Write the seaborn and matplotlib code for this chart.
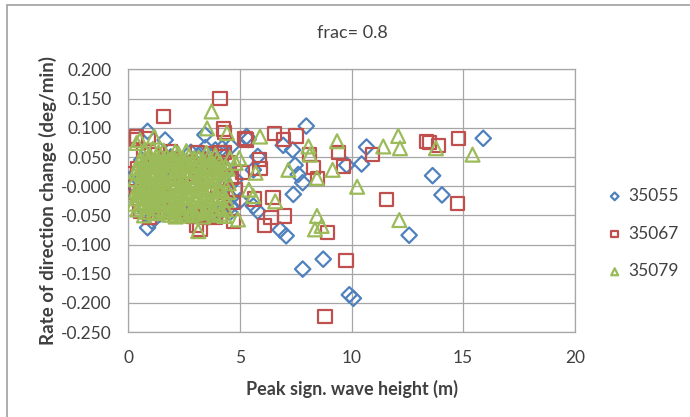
import numpy as np
import matplotlib
matplotlib.use("Agg")
import matplotlib.pyplot as plt
import pandas as pd
import seaborn as sns
from matplotlib.patches import Rectangle

sns.set_style("white")
plt.rcParams['font.family'] = ['Lato', 'DejaVu Sans']

# 35055 (blue diamonds): outliers first, then the points hidden in the cluster
x_35055 = [7.97, 10.67, 10.45, 9.78, 13.63, 14.05, 15.9, 12.58, 8.73, 7.81,
           9.9, 10.08, 7.07, 6.8, 7.39, 7.81, 7.61, 7.47, 7.36, 6.94,
           5.37, 5.8, 5.0, 5.6, 3.43, 0.86, 1.65, 0.86, 1.06, 0.22,
           0.37, 0.17, 5.8, 5.6, 5.3, 4.6, 4.6,
           0.5, 0.9, 1.3, 1.7, 2.1, 2.5, 2.9, 3.3, 3.7, 4.1,
           4.4, 4.6, 3.9, 3.2, 2.7, 1.9, 1.4, 0.6, 0.7, 3.6,
           4.3, 4.8, 4.2, 3.0, 2.3, 1.1, 2.8, 3.45, 4.55]
y_35055 = [0.103, 0.067, 0.038, 0.036, 0.018, -0.015, 0.082, -0.084, -0.125, -0.142,
           -0.186, -0.192, -0.085, -0.075, -0.014, 0.006, 0.020, 0.036, 0.062, 0.070,
           0.080, -0.043, -0.025, -0.034, 0.088, 0.094, 0.079, -0.071, -0.060, 0.003,
           0.023, -0.011, 0.051, 0.028, 0.085, -0.034, 0.068,
           0.010, -0.020, 0.030, -0.035, 0.020, -0.045, 0.045, -0.040, 0.050, -0.045,
           0.030, -0.020, 0.062, 0.055, -0.050, 0.050, -0.048, 0.045, -0.040, -0.052,
           0.000, 0.012, 0.065, 0.000, -0.010, 0.000, 0.058, 0.066, -0.045]

# 35067 (red squares)
x_35067 = [8.81, 9.75, 11.57, 10.94, 9.65, 9.4, 8.91, 8.1, 8.29, 8.48,
           7.51, 6.94, 6.54, 7.0, 6.39, 6.09, 6.48, 5.67, 5.87, 5.9,
           5.23, 13.36, 13.5, 13.88, 14.78, 14.75, 4.11, 1.57, 4.25, 4.3,
           0.38, 0.9, 0.22, 0.57, 0.96, 3.06, 3.21, 3.43, 3.92, 4.71,
           5.1, 4.81, 4.11, 5.3, 0.37, 1.06,
           0.4, 0.7, 1.0, 1.3, 1.6, 1.9, 2.2, 2.5, 2.8, 3.1,
           3.4, 3.7, 4.0, 4.3, 4.5, 4.6, 4.4, 4.2, 3.9, 3.6,
           3.3, 2.9, 2.5, 2.1, 1.7, 1.3, 0.5, 0.35, 2.0, 3.0,
           3.5, 4.0, 2.6, 1.5, 3.8, 4.15, 3.25, 2.35, 1.75, 4.7]
y_35067 = [-0.223, -0.127, -0.023, 0.054, 0.034, 0.058, -0.080, 0.054, 0.032, 0.013,
           0.086, 0.080, 0.090, -0.051, -0.054, -0.068, -0.020, -0.022, 0.046, 0.030,
           0.082, 0.077, 0.075, 0.070, 0.081, -0.030, 0.150, 0.119, 0.098, 0.092,
           0.080, 0.082, 0.022, -0.043, -0.054, -0.068, -0.074, -0.054, -0.054, -0.060,
           0.023, -0.006, 0.057, 0.079, 0.085, 0.054,
           0.030, 0.060, 0.020, 0.010, 0.035, 0.060, 0.025, 0.040, 0.015, 0.058,
           0.030, 0.055, 0.035, 0.058, 0.040, 0.015, -0.010, -0.040, -0.050, -0.045,
           -0.048, -0.052, -0.045, -0.050, -0.044, -0.047, -0.030, -0.010, 0.000, 0.020,
           0.030, 0.000, 0.025, -0.020, 0.038, 0.050, 0.045, 0.042, 0.048, -0.028]

# 35079 (green triangles)
x_35079 = [12.14, 12.09, 12.17, 11.42, 10.25, 9.35, 9.15, 8.45, 8.36, 8.66,
           8.45, 8.07, 8.13, 7.17, 6.58, 5.9, 4.91, 4.97, 5.4, 13.78,
           15.42, 3.73, 4.42, 3.53, 0.52, 3.13, 5.7, 4.81, 5.6, 1.15,
           0.37,
           0.31, 0.35, 0.42, 0.45, 0.5, 0.55, 0.58, 0.62, 0.38, 0.47,
           0.7, 0.74, 0.78, 0.82, 0.86, 0.9, 0.93, 0.97, 1.0, 0.72, 0.88,
           1.04, 1.08, 1.12, 1.16, 1.2, 1.24, 1.28, 1.32, 1.36, 1.4, 1.44, 1.48, 1.1, 1.3,
           1.52, 1.56, 1.6, 1.64, 1.68, 1.72, 1.76, 1.8, 1.84, 1.88, 1.92, 1.96, 1.58, 1.78,
           2.0, 2.04, 2.08, 2.12, 2.16, 2.2, 2.24, 2.28, 2.32, 2.36, 2.4, 2.44, 2.48, 2.1,
           2.52, 2.56, 2.6, 2.64, 2.68, 2.72, 2.76, 2.8, 2.84, 2.88, 2.92, 2.96, 2.6,
           3.0, 3.05, 3.1, 3.15, 3.2, 3.25, 3.3, 3.35, 3.4, 3.45, 3.5,
           3.55, 3.6, 3.65, 3.7, 3.75, 3.8, 3.85, 3.9, 3.95,
           4.0, 4.05, 4.1, 4.15, 4.2, 4.3, 4.35, 4.4, 4.5, 4.55,
           0.6, 0.8, 1.0, 1.2, 1.4, 1.6, 1.8, 2.0, 2.2, 2.4, 2.6, 2.8, 3.0, 3.2]
y_35079 = [-0.058, 0.086, 0.065, 0.068, -0.001, 0.077, 0.028, -0.051, -0.074, -0.068,
           0.014, 0.068, 0.054, 0.028, -0.026, 0.085, -0.057, 0.048, -0.006, 0.065,
           0.054, 0.128, 0.091, 0.099, 0.079, -0.077, 0.023, 0.040, -0.017, 0.085,
           0.074,
           0.012, -0.008, 0.031, -0.021, 0.004, 0.046, -0.035, 0.019, -0.015, 0.022,
           -0.002, 0.038, -0.028, 0.014, -0.044, 0.027, -0.012, 0.052, 0.006, 0.062, -0.019,
           -0.031, 0.035, -0.004, 0.018, -0.046, 0.044, -0.017, 0.009, 0.058, -0.027, 0.025, -0.008, 0.064, -0.038,
           0.039, -0.041, 0.002, 0.029, -0.022, 0.051, -0.006, 0.016, -0.049, 0.036, -0.014, 0.007, 0.061, -0.033,
           0.043, -0.025, 0.012, -0.052, 0.030, -0.010, 0.056, -0.037, 0.001, 0.021, -0.044, 0.047, -0.018, 0.059,
           0.008, 0.034, -0.029, 0.016, -0.050, 0.052, -0.009, 0.026, -0.040, 0.041, -0.016, 0.003, 0.060,
           -0.047, 0.029, -0.021, 0.049, 0.004, -0.034, 0.020, -0.052, 0.038, -0.011, 0.057,
           -0.042, 0.013, -0.024, 0.044, -0.003, 0.030, -0.049, 0.053, -0.016,
           0.022, -0.037, 0.041, -0.008, 0.011, -0.051, 0.034, -0.024, 0.005, 0.048,
           -0.010, 0.000, -0.020, 0.020, 0.000, -0.015, 0.030, -0.005, 0.035, 0.000, -0.012, 0.010, -0.025, 0.015]

# more 35079 points filling the dense low-height cluster
x_35079_dense = [0.25, 0.33, 0.4, 0.48, 0.56, 0.64, 0.68, 0.76, 0.84, 0.92,
                 0.98, 1.06, 1.14, 1.22, 1.26, 1.34, 1.42, 1.5, 1.54, 1.62,
                 1.7, 1.74, 1.82, 1.9, 1.98, 2.02, 2.06, 2.14, 2.18, 2.26,
                 2.3, 2.38, 2.42, 2.5, 2.54, 2.62, 2.66, 2.74, 2.78, 2.86,
                 2.9, 2.98, 3.02, 3.08, 3.12, 3.18, 3.22, 3.28, 3.32, 3.38,
                 3.42, 3.48, 3.52, 3.58, 3.62, 3.68, 3.72, 3.78, 3.82, 3.88,
                 3.92, 3.98, 4.02, 4.08, 4.12, 4.18, 4.25, 4.32, 4.38, 4.45,
                 4.48, 0.45, 0.9, 1.35, 1.8, 2.25, 2.7, 3.15, 3.6, 4.05,
                 0.7, 1.15, 1.6, 2.05, 2.5, 2.95, 3.4, 3.85, 4.3]
y_35079_dense = [-0.030, 0.025, -0.040, 0.040, -0.006, 0.032, -0.018, 0.048, -0.034, 0.004,
                 -0.026, 0.022, -0.014, 0.033, 0.052, -0.009, 0.042, -0.032, 0.013, -0.004,
                 0.037, -0.045, 0.026, -0.024, 0.049, 0.018, -0.036, 0.006, 0.043, -0.022,
                 0.028, -0.049, 0.012, 0.039, -0.032, 0.045, -0.002, -0.020, 0.034, -0.048,
                 0.019, 0.046, 0.008, -0.014, 0.035, -0.041, 0.025, -0.006, 0.046, -0.024,
                 0.015, -0.038, 0.030, -0.007, 0.040, -0.031, 0.018, -0.045, 0.009, 0.035,
                 -0.028, 0.045, -0.005, 0.027, -0.047, 0.032, -0.015, 0.020, -0.040, 0.030,
                 -0.010, 0.000, 0.040, -0.025, 0.045, -0.030, 0.035, -0.045, 0.050, -0.020,
                 -0.050, -0.045, 0.047, -0.042, -0.050, 0.048, -0.045, 0.025, -0.035]

series = ['35055', '35067', '35079']
colors = {'35055': '#4F81BD', '35067': '#C0504D', '35079': '#9BBB59'}
markers = {'35055': 'D', '35067': 's', '35079': '^'}
sizes = {'35055': 62, '35067': 90, '35079': 100}
data = {'35055': (x_35055, y_35055),
        '35067': (x_35067, y_35067),
        '35079': (x_35079 + x_35079_dense, y_35079 + y_35079_dense)}

fig = plt.figure(figsize=(6.9, 4.17), dpi=100)
ax = fig.add_axes([0.186, 0.2035, 0.647, 0.630])

for name in series:
    df = pd.DataFrame({'x': data[name][0], 'y': data[name][1]})
    sns.scatterplot(data=df, x='x', y='y', ax=ax, marker=markers[name], s=sizes[name],
                    facecolor='none', edgecolor=colors[name], linewidth=1.6,
                    label=name, zorder=3)

ax.set_xlim(0, 20)
ax.set_ylim(-0.25, 0.2)
ax.set_xticks([0, 5, 10, 15, 20])
ax.set_yticks(np.arange(-0.25, 0.2001, 0.05))
ax.set_yticklabels([f'{v:.3f}' for v in np.arange(-0.25, 0.2001, 0.05)])
ax.grid(True, color='#A6A6A6', linewidth=0.9, zorder=0)
ax.set_axisbelow(True)
for sp in ax.spines.values():
    sp.set_color('#A6A6A6')
    sp.set_linewidth(0.9)
ax.tick_params(axis='both', direction='out', length=5, width=0.9, color='#A6A6A6',
               labelsize=12.5, labelcolor='#404040')
ax.tick_params(axis='y', pad=7)
ax.tick_params(axis='x', pad=8)

ax.set_xlabel('Peak sign. wave height (m)', fontsize=13, fontweight='bold', color='#404040', labelpad=10)
ax.set_ylabel('Rate of direction change (deg/min)', fontsize=13.5, fontweight='bold', color='#404040', labelpad=3)

fig.text(0.51, 0.92, 'frac= 0.8', ha='center', va='center', fontsize=13, color='#404040')

leg = ax.legend(loc='center left', bbox_to_anchor=(1.035, 0.375), frameon=False,
                markerscale=0.5, handletextpad=0.3, labelspacing=1.25, fontsize=12.5,
                handlelength=1.0)
for t in leg.get_texts():
    t.set_color('#404040')

fig.patches.append(Rectangle((0.010, -0.05), 1.1, 1.037, transform=fig.transFigure,
                             fill=False, edgecolor='#A0A0A0', linewidth=1.2))

fig.savefig('out.png', dpi=100)
